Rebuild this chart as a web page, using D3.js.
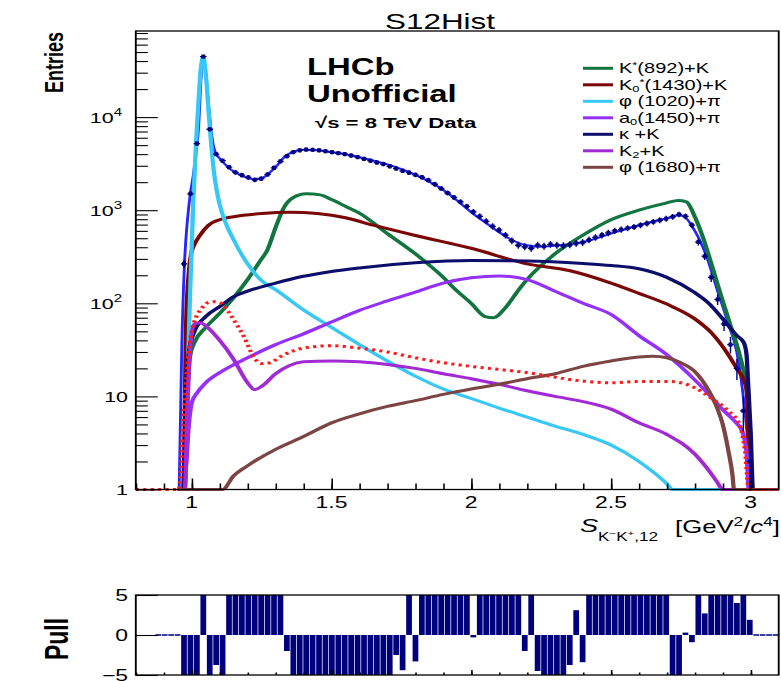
<!DOCTYPE html>
<html>
<head>
<meta charset="utf-8">
<script src="https://cdn.jsdelivr.net/npm/d3@7"></script>
<style>
  body { margin: 0; background: #fff; }
  svg { display: block; font-family: "Liberation Sans", Arial, Helvetica, sans-serif; }
</style>
</head>
<body>
<div id="chart"></div>
<script>
// histogram binning: 100 bins between 0.8 and 3.1 GeV^2/c^4
const histLow = 0.8;
const histHigh = 3.1;
const nBins = 100;

// data entries, bins 7 .. 95
const firstDataBin = 7;
const dataCounts = [
    265, 1500, 5200, 44700, 7400, 4000, 3400, 2900, 2550, 2380,
    2250, 2120, 2180, 2420, 2850, 3350, 3800, 4200, 4400, 4480,
    4450, 4400, 4300, 4200, 4100, 4000, 3870, 3720, 3560, 3400,
    3250, 3130, 2960, 2800, 2650, 2530, 2400, 2260, 2100, 1900,
    1710, 1530, 1370, 1230, 1100, 960, 860, 760, 670, 610,
    540, 470, 420, 405, 390, 420, 410, 430, 420, 415,
    425, 440, 450, 480, 510, 540, 570, 600, 620, 640,
    660, 690, 720, 750, 780, 810, 850, 900, 860, 690,
    455, 320, 190, 110, 60, 36, 20, 7, 2
];

// pull per bin, bins 3 .. 99 (drawn clipped to +-5)
const firstPullBin = 3;
const pullValues = [
    0, 0, 0, 0, -5, -5, -5, 5, -5, -3.75,
    -5, 5, 5, 5, 5, 5, 5, 5, 5, 5,
    -2, -5, -5, -5, -5, -5, -5, -5, -5, -5,
    -5, -5, -5, -5, -5, -5, -5, -2.5, -4.4, 5,
    -3.3, 5, 5, 5, 5, 5, 5, 5, 5, -0.3,
    5, 5, 5, 5, 5, 5, 5, -2, 5, -4.5,
    -5, -5, -5, -5, -3.75, 3.1, -3.4, 5, 5, 5,
    5, 5, 5, 5, 5, 5, 5, 5, 5, 5,
    -5, -5, 0.3, -0.9, 5, 2.7, 5, 5, 5, 5,
    4.0, 5, 1.9, 0, 0, 0, 0
];

// total fit, [s12, entries]
const totalFit = [
    [0.955, 1], [0.965, 40], [0.975, 300], [0.985, 800], [0.995, 1500],
    [1.005, 2300], [1.015, 4000], [1.025, 8000], [1.033, 25000], [1.0415, 44000],
    [1.05, 30000], [1.06, 14000], [1.07, 7000], [1.08, 4600], [1.09, 3900],
    [1.1, 3600], [1.12, 3100], [1.15, 2600], [1.18, 2350], [1.2, 2220],
    [1.22, 2150], [1.25, 2200], [1.28, 2550], [1.3, 2900], [1.33, 3700],
    [1.36, 4200], [1.4, 4450], [1.45, 4400], [1.5, 4200], [1.55, 4000],
    [1.6, 3700], [1.7, 3100], [1.8, 2400], [1.9, 1650], [1.95, 1270],
    [2.0, 950], [2.05, 740], [2.1, 580], [2.15, 470], [2.2, 420],
    [2.25, 405], [2.3, 415], [2.35, 430], [2.4, 455], [2.5, 560],
    [2.6, 690], [2.7, 820], [2.74, 880], [2.76, 860], [2.8, 600],
    [2.84, 330], [2.88, 140], [2.92, 60], [2.95, 30], [2.97, 12],
    [2.99, 3], [3.0, 1]
];

// fit components, [s12, entries]
const kstar892 = [
    [0.95, 1], [0.975, 1], [0.985, 12], [0.995, 28], [1.01, 38], [1.05, 55],
    [1.1, 78], [1.15, 115], [1.2, 180], [1.25, 300], [1.27, 370], [1.3, 650],
    [1.33, 1070], [1.36, 1350], [1.41, 1500], [1.46, 1460], [1.5, 1300], [1.55, 1100],
    [1.6, 930], [1.7, 560], [1.8, 340], [1.9, 190], [1.95, 135], [2.0, 100],
    [2.05, 72], [2.08, 70], [2.12, 88], [2.17, 140], [2.2, 180], [2.3, 340],
    [2.4, 540], [2.5, 790], [2.6, 1000], [2.7, 1200], [2.74, 1270], [2.77, 1230],
    [2.8, 850], [2.83, 500], [2.86, 260], [2.9, 105], [2.93, 55], [2.96, 28],
    [2.98, 15], [2.99, 8], [2.995, 1], [3.1, 1]
];
const k0star1430 = [
    [0.95, 1], [0.97, 1], [0.98, 60], [0.99, 220], [1.0, 360], [1.01, 430],
    [1.03, 540], [1.06, 690], [1.1, 790], [1.15, 850], [1.25, 920], [1.35, 950],
    [1.45, 920], [1.55, 830], [1.65, 690], [1.8, 535], [2.0, 390], [2.2, 265],
    [2.35, 225], [2.5, 165], [2.6, 128], [2.7, 98], [2.8, 68], [2.86, 48],
    [2.92, 28], [2.95, 20], [2.975, 15], [2.985, 12], [2.99, 6], [2.995, 1],
    [3.1, 1]
];
const phi1020 = [
    [0.95, 1], [0.972, 1], [0.985, 15], [0.995, 150], [1.005, 1100], [1.015, 5000],
    [1.025, 16000], [1.033, 34000], [1.0415, 44000], [1.05, 30000], [1.06, 12000],
    [1.07, 5000], [1.08, 2500], [1.09, 1600], [1.1, 1150], [1.12, 750], [1.15, 480],
    [1.2, 265], [1.25, 175], [1.3, 140], [1.4, 85], [1.5, 55], [1.6, 36],
    [1.7, 24], [1.8, 16.5], [1.9, 12], [2.0, 9.5], [2.1, 7.5], [2.2, 6],
    [2.3, 4.8], [2.4, 3.9], [2.5, 3.0], [2.6, 2.0], [2.7, 1.15], [2.72, 1],
    [3.1, 1]
];
const a01450 = [
    [0.95, 1], [0.97, 1], [0.98, 1.8], [0.99, 5], [1.0, 8.5], [1.02, 11],
    [1.05, 14], [1.1, 18], [1.2, 26], [1.3, 36], [1.4, 47], [1.5, 63],
    [1.6, 84], [1.7, 106], [1.8, 132], [1.9, 165], [2.0, 188], [2.1, 197],
    [2.2, 180], [2.3, 135], [2.4, 100], [2.5, 76], [2.6, 45], [2.7, 28],
    [2.8, 15], [2.85, 10.5], [2.9, 7.2], [2.94, 5.5], [2.97, 4.2], [2.985, 2.5],
    [2.993, 1], [3.1, 1]
];
const kappa = [
    [0.95, 1], [0.97, 1], [0.98, 12], [0.99, 30], [1.01, 50], [1.05, 72],
    [1.1, 92], [1.15, 118], [1.2, 135], [1.3, 165], [1.4, 195], [1.5, 220],
    [1.6, 240], [1.8, 272], [2.0, 288], [2.2, 285], [2.4, 268], [2.5, 255],
    [2.6, 235], [2.7, 190], [2.8, 130], [2.85, 100], [2.9, 68], [2.95, 45],
    [2.975, 38], [2.985, 28], [2.99, 15], [3.0, 4], [3.008, 1], [3.1, 1]
];
const k2 = [
    [0.95, 1], [0.975, 1], [0.985, 8], [0.995, 35], [1.01, 60], [1.03, 62],
    [1.06, 54], [1.1, 40], [1.15, 25], [1.2, 14], [1.225, 11.8], [1.25, 12.8],
    [1.3, 17.5], [1.35, 21.5], [1.4, 23.5], [1.5, 24], [1.6, 23.5], [1.7, 22],
    [1.8, 20], [1.9, 17.5], [2.0, 15.5], [2.1, 13.5], [2.2, 11.5], [2.3, 10],
    [2.4, 8.8], [2.5, 7.3], [2.6, 5.2], [2.7, 3.9], [2.8, 2.4], [2.85, 1.6],
    [2.88, 1.2], [2.9, 1], [3.1, 1]
];
const phi1680 = [
    [0.95, 1], [1.11, 1], [1.15, 1.4], [1.2, 1.8], [1.3, 2.7], [1.4, 3.7],
    [1.5, 5.2], [1.6, 6.5], [1.7, 7.8], [1.8, 9], [1.9, 10.5], [2.0, 12],
    [2.1, 13.5], [2.2, 15.5], [2.3, 17.5], [2.4, 21], [2.5, 24], [2.6, 26.5],
    [2.65, 27], [2.7, 26], [2.75, 23], [2.8, 18.5], [2.85, 11.5], [2.88, 7.5],
    [2.9, 5], [2.92, 2.6], [2.935, 1.4], [2.94, 1], [3.1, 1]
];
// dotted red curve
const dottedComponent = [
    [0.8, 1], [0.955, 1], [0.97, 5], [0.985, 22], [1.0, 50], [1.015, 70],
    [1.035, 88], [1.06, 102], [1.08, 104], [1.1, 102], [1.13, 82], [1.16, 60],
    [1.19, 42], [1.22, 27], [1.25, 22.5], [1.28, 23], [1.32, 27], [1.4, 33],
    [1.5, 35], [1.6, 33], [1.7, 30], [1.8, 26], [1.9, 23], [2.0, 21],
    [2.2, 18], [2.4, 14.6], [2.5, 14], [2.6, 14.5], [2.7, 14.5], [2.75, 14],
    [2.8, 12.4], [2.86, 9.5], [2.92, 7], [2.96, 5], [2.98, 2.5], [2.993, 1],
    [3.1, 1]
];

const legendLabels = ["K*(892)+K", "K0*(1430)+K", "φ (1020)+π", "a0(1450)+π", "κ +K", "K2+K", "φ (1680)+π"];
const componentColors = ["#12743f", "#7a0606", "#38c8f6", "#9430f7", "#0d0d6c", "#a12ad4", "#7d4444"];
const components = [kstar892, k0star1430, phi1020, a01450, kappa, k2, phi1680];

const xTickValues = [1, 1.5, 2, 2.5, 3];
const xTickLabels = ["1", "1.5", "2", "2.5", "3"];
const yTickValues = [1, 10, 100, 1000, 10000];
const pullTickValues = [-5, 0, 5];

// the picture is stretched horizontally, everything is drawn in a squeezed frame
const SX = 1.43;
const W = 781, H = 681;
const px = v => v / SX;

const svg = d3.select("#chart").append("svg")
    .attr("width", W)
    .attr("height", H);
const root = svg.append("g").attr("transform", `scale(${SX},1)`);

const x = d3.scaleLinear().domain([histLow, histHigh]).range([px(135.8), px(778.7)]);
const y = d3.scaleLog().domain([1, 84100]).range([489.5, 31]).clamp(true);
const yPull = d3.scaleLinear().domain([-5, 5]).range([675, 595]);
const binWidth = (histHigh - histLow) / nBins;

const frameX0 = x(histLow), frameX1 = x(histHigh);

// ---------- main pad ----------
root.append("clipPath").attr("id", "mainClip")
    .append("rect")
    .attr("x", frameX0).attr("y", 31)
    .attr("width", frameX1 - frameX0).attr("height", 463);

const plot = root.append("g").attr("clip-path", "url(#mainClip)");

const line = d3.line()
    .x(d => x(d[0]))
    .y(d => y(Math.max(1, d[1])))
    .curve(d3.curveMonotoneX);

plot.append("path")
    .datum(totalFit)
    .attr("d", line)
    .attr("fill", "none")
    .attr("stroke", "#2626ff")
    .attr("stroke-width", 2);

components.forEach((comp, k) => {
    plot.append("path")
        .datum(comp)
        .attr("d", line)
        .attr("fill", "none")
        .attr("stroke", componentColors[k])
        .attr("stroke-width", 3)
        .attr("stroke-linejoin", "round");
});

plot.append("path")
    .datum(dottedComponent)
    .attr("d", line)
    .attr("fill", "none")
    .attr("stroke", "#ff1a1a")
    .attr("stroke-width", 3)
    .attr("stroke-dasharray", "2.2 3");

// data points with errors
const dataPoints = dataCounts.map((n, k) => {
    const lo = histLow + (firstDataBin + k) * binWidth;
    return { lo: lo, hi: lo + binWidth, mid: lo + binWidth / 2, n: n };
});

const pts = plot.append("g").attr("class", "data");
pts.selectAll("line.xerr")
    .data(dataPoints)
    .join("line")
    .attr("class", "xerr")
    .attr("x1", d => x(d.lo)).attr("x2", d => x(d.hi))
    .attr("y1", d => y(d.n)).attr("y2", d => y(d.n))
    .attr("stroke", "#000080")
    .attr("stroke-width", 1.3);
pts.selectAll("line.yerr")
    .data(dataPoints)
    .join("line")
    .attr("class", "yerr")
    .attr("x1", d => x(d.mid)).attr("x2", d => x(d.mid))
    .attr("y1", d => y(d.n + Math.sqrt(d.n)) - 1.5)
    .attr("y2", d => y(Math.max(1, d.n - Math.sqrt(d.n))) + 1.5)
    .attr("stroke", "#000080")
    .attr("stroke-width", 1);
pts.selectAll("rect")
    .data(dataPoints)
    .join("rect")
    .attr("x", d => x(d.mid) - px(2))
    .attr("y", d => y(d.n) - 2)
    .attr("width", px(4))
    .attr("height", 4)
    .attr("fill", "#000080");

// axes of the main pad
const yMinor = [];
yTickValues.forEach(d => {
    for (let m = 2; m <= 9; m++) if (d * m < 84100) yMinor.push(d * m);
});

root.append("g")
    .attr("transform", `translate(${frameX0},0)`)
    .call(d3.axisLeft(y).tickValues(yTickValues).tickSize(-px(22)).tickSizeOuter(0).tickFormat(""))
    .call(g => g.select(".domain").remove());
root.append("g")
    .attr("transform", `translate(${frameX0},0)`)
    .call(d3.axisLeft(y).tickValues(yMinor).tickSize(-px(12)).tickSizeOuter(0).tickFormat(""))
    .call(g => g.select(".domain").remove());

const xMinor = d3.range(8, 31).map(v => v / 10);
root.append("g")
    .attr("transform", "translate(0,489.5)")
    .call(d3.axisBottom(x).tickValues(xTickValues).tickSize(-11).tickSizeOuter(0).tickFormat(""))
    .call(g => g.select(".domain").remove());
root.append("g")
    .attr("transform", "translate(0,489.5)")
    .call(d3.axisBottom(x).tickValues(xMinor).tickSize(-6).tickSizeOuter(0).tickFormat(""))
    .call(g => g.select(".domain").remove());

root.selectAll(".tick line").attr("stroke", "#000").attr("stroke-width", 1.1);

root.append("rect")
    .attr("x", frameX0).attr("y", 31)
    .attr("width", frameX1 - frameX0).attr("height", 489.5 - 31)
    .attr("fill", "none")
    .attr("stroke", "#000")
    .attr("stroke-width", 1.3);

// tick labels
root.append("g").selectAll("text")
    .data(xTickValues)
    .join("text")
    .attr("x", d => x(d))
    .attr("y", 508)
    .attr("text-anchor", "middle")
    .style("font-size", "16px")
    .text((d, i) => xTickLabels[i]);

const yLab = root.append("g").style("font-size", "15px");
yTickValues.forEach(v => {
    const e = Math.round(Math.log10(v));
    const t = yLab.append("text")
        .attr("y", y(v) + 6)
        .attr("text-anchor", "end");
    if (e < 2) {
        t.attr("x", px(128)).text(v === 1 ? "1" : "10");
    } else {
        t.attr("x", px(122));
        t.append("tspan").text("10");
        t.append("tspan").attr("dy", -7).style("font-size", "10.5px").text(e);
    }
});

// title and texts
root.append("text")
    .attr("x", px(440)).attr("y", 29)
    .attr("text-anchor", "middle")
    .style("font-size", "22px")
    .text("S12Hist");

root.append("text")
    .attr("transform", `translate(${px(63)},32) rotate(-90)`)
    .attr("text-anchor", "end")
    .style("font-size", "18px")
    .style("font-weight", "bold")
    .text("Entries");

const lhcb = root.append("g").style("font-weight", "bold");
lhcb.append("text").attr("x", px(307)).attr("y", 75).style("font-size", "23px").text("LHCb");
lhcb.append("text").attr("x", px(307)).attr("y", 102).style("font-size", "23px").text("Unofficial");
lhcb.append("text").attr("x", px(315)).attr("y", 128).style("font-size", "15.5px").text("√s = 8 TeV Data");

// x axis title
root.append("text")
    .attr("x", px(580)).attr("y", 532)
    .style("font-size", "19px")
    .style("font-style", "italic")
    .text("S");
const sub = root.append("text")
    .attr("x", px(598)).attr("y", 541)
    .style("font-size", "12px");
sub.append("tspan").text("K");
sub.append("tspan").attr("dy", -5).style("font-size", "8px").text("−");
sub.append("tspan").attr("dy", 5).text("K");
sub.append("tspan").attr("dy", -5).style("font-size", "8px").text("+");
sub.append("tspan").attr("dy", 5).text(",12");
const unit = root.append("text")
    .attr("x", px(675)).attr("y", 533)
    .style("font-size", "18px");
unit.append("tspan").text("[GeV");
unit.append("tspan").attr("dy", -7).style("font-size", "12px").text("2");
unit.append("tspan").attr("dy", 7).text("/");
unit.append("tspan").style("font-style", "italic").text("c");
unit.append("tspan").attr("dy", -7).style("font-size", "12px").text("4");
unit.append("tspan").attr("dy", 7).text("]");

// legend
const legend = root.append("g").style("font-size", "14px");
legendLabels.forEach((label, k) => {
    const ly = 68.3 + 16.5 * k;
    legend.append("line")
        .attr("x1", px(583)).attr("x2", px(613))
        .attr("y1", ly).attr("y2", ly)
        .attr("stroke", componentColors[k])
        .attr("stroke-width", 3);
    const t = legend.append("text").attr("x", px(619)).attr("y", ly + 5);
    // sub- and superscripts of the labels
    const m = label.match(/^([Ka])(0|2)?(\*)?(.*)$/);
    if (m) {
        t.append("tspan").text(m[1]);
        if (m[2]) t.append("tspan").attr("dy", 2.5).style("font-size", "9px").text(m[2]);
        if (m[3]) t.append("tspan").attr("dy", m[2] ? -7.5 : -5).style("font-size", "9px").text("*");
        const back = (m[2] ? -2.5 : 0) + (m[3] ? (m[2] ? 7.5 : 5) : 0);
        t.append("tspan").attr("dy", back).text(m[4]);
    } else {
        t.text(label);
    }
});

// ---------- pull pad ----------
const pullBins = pullValues.map((v, k) => {
    const lo = histLow + (firstPullBin + k) * binWidth;
    return { lo: lo, hi: lo + binWidth, v: Math.max(-5, Math.min(5, v)) };
});

root.append("g").selectAll("rect")
    .data(pullBins)
    .join("rect")
    .attr("x", d => x(d.lo) + px(0.35))
    .attr("width", d => x(d.hi) - x(d.lo) - px(0.7))
    .attr("y", d => d.v === 0 ? yPull(0) - 0.75 : yPull(Math.max(0, d.v)))
    .attr("height", d => d.v === 0 ? 1.5 : Math.abs(yPull(d.v) - yPull(0)))
    .attr("fill", "#00007c");

root.append("g")
    .attr("transform", `translate(${frameX0},0)`)
    .call(d3.axisLeft(yPull).tickValues(pullTickValues).tickSize(-px(22)).tickSizeOuter(0).tickFormat(""))
    .call(g => g.select(".domain").remove());
root.append("g")
    .attr("transform", "translate(0,675)")
    .call(d3.axisBottom(x).tickValues(xTickValues).tickSize(-5).tickSizeOuter(0).tickFormat(""))
    .call(g => g.select(".domain").remove());
root.append("g")
    .attr("transform", "translate(0,675)")
    .call(d3.axisBottom(x).tickValues(xMinor).tickSize(-2.5).tickSizeOuter(0).tickFormat(""))
    .call(g => g.select(".domain").remove());
root.selectAll(".tick line").attr("stroke", "#000").attr("stroke-width", 1.1);

root.append("rect")
    .attr("x", frameX0).attr("y", 595)
    .attr("width", frameX1 - frameX0).attr("height", 80)
    .attr("fill", "none")
    .attr("stroke", "#000")
    .attr("stroke-width", 1.3);

root.append("g").style("font-size", "16px").selectAll("text")
    .data(pullTickValues)
    .join("text")
    .attr("x", px(128))
    .attr("y", d => yPull(d) + 6)
    .attr("text-anchor", "end")
    .text(d => d < 0 ? "−" + Math.abs(d) : String(d));

root.append("text")
    .attr("transform", `translate(${px(68)},639) rotate(-90)`)
    .attr("text-anchor", "middle")
    .style("font-size", "23px")
    .style("font-weight", "bold")
    .text("Pull");
</script>
</body>
</html>
